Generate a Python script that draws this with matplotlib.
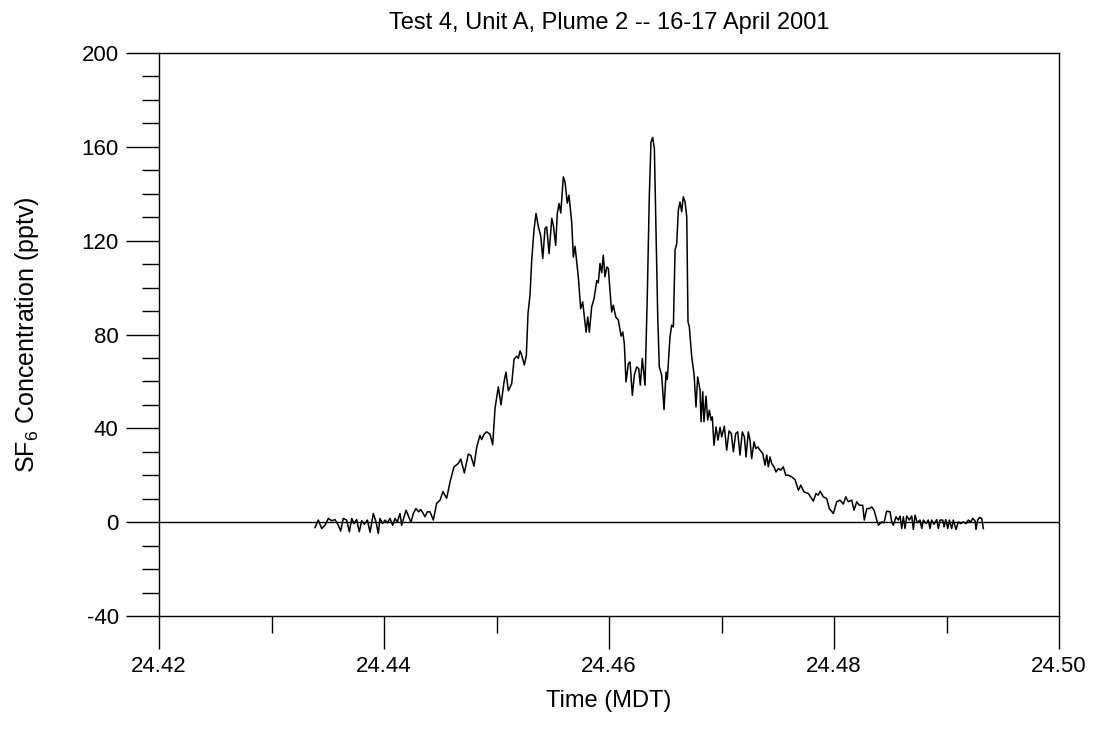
import matplotlib
matplotlib.use("Agg")
import matplotlib.pyplot as plt
from matplotlib.ticker import MultipleLocator, FixedLocator

plt.rcParams['font.family'] = ['Liberation Sans', 'DejaVu Sans']
plt.rcParams['axes.unicode_minus'] = False
plt.rcParams['mathtext.fontset'] = 'custom'
plt.rcParams['mathtext.rm'] = 'Liberation Sans'

title = "Test 4, Unit A, Plume 2 -- 16-17 April 2001"
xlabel = "Time (MDT)"
ylabel = "SF$_6$ Concentration (pptv)"

time_mdt = [
    24.43387, 24.43416, 24.43446, 24.43476, 24.43505, 24.43535, 24.43564, 24.43594, 24.43615, 24.43638,
    24.43668, 24.43692, 24.43713, 24.43733, 24.43757, 24.43780, 24.43802, 24.43825, 24.43852, 24.43876,
    24.43905, 24.43929, 24.43949, 24.43964, 24.43988, 24.44009, 24.44029, 24.44053, 24.44077, 24.44098,
    24.44118, 24.44142, 24.44157, 24.44178, 24.44196, 24.44220, 24.44240, 24.44260, 24.44284, 24.44308,
    24.44326, 24.44349, 24.44364, 24.44385, 24.44409, 24.44438, 24.44468, 24.44498, 24.44524, 24.44557,
    24.44587, 24.44622, 24.44660, 24.44682, 24.44714, 24.44749, 24.44771, 24.44800, 24.44824, 24.44853,
    24.44868, 24.44889, 24.44913, 24.44942, 24.44966, 24.44987, 24.45016, 24.45040, 24.45067, 24.45084,
    24.45105, 24.45135, 24.45156, 24.45180, 24.45194, 24.45209, 24.45224, 24.45247, 24.45265, 24.45280,
    24.45298, 24.45313, 24.45333, 24.45351, 24.45372, 24.45393, 24.45411, 24.45431, 24.45446, 24.45467,
    24.45491, 24.45505, 24.45526, 24.45540, 24.45556, 24.45571, 24.45594, 24.45609, 24.45629, 24.45644,
    24.45668, 24.45683, 24.45698, 24.45727, 24.45748, 24.45766, 24.45796, 24.45811, 24.45825, 24.45846,
    24.45867, 24.45891, 24.45905, 24.45920, 24.45935, 24.45949, 24.45964, 24.45980, 24.45994, 24.46015,
    24.46024, 24.46038, 24.46060, 24.46083, 24.46107, 24.46122, 24.46136, 24.46151, 24.46172, 24.46187,
    24.46207, 24.46225, 24.46246, 24.46264, 24.46278, 24.46296, 24.46320, 24.46340, 24.46358, 24.46373,
    24.46388, 24.46403, 24.46418, 24.46433, 24.46447, 24.46468, 24.46489, 24.46507, 24.46518, 24.46542,
    24.46557, 24.46572, 24.46587, 24.46602, 24.46616, 24.46631, 24.46646, 24.46660, 24.46676, 24.46691,
    24.46702, 24.46714, 24.46735, 24.46756, 24.46773, 24.46788, 24.46809, 24.46818, 24.46833, 24.46844,
    24.46862, 24.46877, 24.46892, 24.46907, 24.46918, 24.46933, 24.46951, 24.46969, 24.46987, 24.47002,
    24.47025, 24.47046, 24.47067, 24.47087, 24.47105, 24.47126, 24.47144, 24.47164, 24.47185, 24.47203,
    24.47218, 24.47238, 24.47253, 24.47268, 24.47289, 24.47304, 24.47322, 24.47342, 24.47366, 24.47387,
    24.47402, 24.47416, 24.47431, 24.47446, 24.47467, 24.47484, 24.47505, 24.47526, 24.47549, 24.47571,
    24.47594, 24.47624, 24.47653, 24.47683, 24.47704, 24.47733, 24.47772, 24.47816, 24.47840, 24.47860,
    24.47876, 24.47905, 24.47935, 24.47958, 24.47994, 24.48024, 24.48053, 24.48083, 24.48104, 24.48127,
    24.48157, 24.48178, 24.48202, 24.48225, 24.48255, 24.48269, 24.48291, 24.48314, 24.48335, 24.48356,
    24.48380, 24.48394, 24.48424, 24.48444, 24.48468, 24.48498, 24.48513, 24.48527, 24.48551, 24.48572,
    24.48587, 24.48602, 24.48616, 24.48631, 24.48646, 24.48669, 24.48691, 24.48705, 24.48720, 24.48740,
    24.48764, 24.48780, 24.48794, 24.48818, 24.48838, 24.48853, 24.48868, 24.48889, 24.48913, 24.48927,
    24.48942, 24.48966, 24.48978, 24.48993, 24.49011, 24.49025, 24.49046, 24.49060, 24.49084, 24.49105,
    24.49126, 24.49149, 24.49173, 24.49194, 24.49215, 24.49233, 24.49253, 24.49262, 24.49277, 24.49292,
    24.49313, 24.49327,
]

sf6_pptv = [
    -2.3, 0.9, -2.7, -1.3, 1.6, 0.6, 1.1, -1.3, -3.8, 1.6,
    0.9, -4.1, 1.6, -0.6, 1.1, -4.1, 0.6, -0.9, 0.9, -4.3,
    3.7, 0.1, -4.8, 1.6, -0.6, 0.9, -0.3, 1.6, -1.3, 1.6,
    0.1, 3.7, -1.3, 2.3, 5.1, 2.3, -0.1, 3.7, 5.8, 4.4,
    5.4, 3.7, 2.3, 4.4, 4.4, 0.9, 8.0, 9.4, 13.0, 10.2,
    17.2, 23.6, 25.0, 26.9, 21.0, 29.0, 28.5, 23.9, 32.0, 37.0,
    35.2, 37.5, 38.5, 37.5, 33.0, 48.6, 57.7, 50.0, 59.8, 64.0,
    56.0, 59.0, 69.5, 70.8, 69.8, 73.0, 71.2, 67.0, 71.0, 89.0,
    97.0, 111.7, 124.5, 131.6, 125.9, 122.0, 112.4, 125.2, 125.9, 114.5,
    129.5, 126.6, 118.0, 131.6, 135.8, 131.8, 147.2, 145.0, 136.0, 139.4,
    128.0, 113.0, 117.6, 104.6, 91.0, 93.9, 81.0, 87.5, 81.0, 91.8,
    95.3, 103.0, 102.0, 110.3, 106.3, 113.8, 104.6, 108.8, 108.1, 94.6,
    89.6, 92.5, 87.5, 86.1, 79.3, 81.1, 76.2, 59.8, 67.6, 68.3,
    54.1, 62.7, 66.2, 65.5, 58.4, 69.8, 58.4, 96.0, 138.7, 162.0,
    164.0, 159.3, 124.5, 87.5, 66.2, 62.7, 48.0, 64.0, 60.8, 79.0,
    84.0, 83.2, 116.0, 118.8, 133.0, 136.5, 132.3, 138.7, 136.5, 130.1,
    85.4, 83.2, 70.5, 63.0, 49.1, 61.9, 56.3, 42.8, 55.6, 42.8,
    53.7, 43.5, 47.7, 43.5, 44.9, 32.8, 40.6, 35.0, 40.4, 36.4,
    40.9, 30.7, 38.9, 37.8, 30.0, 37.8, 38.5, 28.6, 38.5, 36.4,
    27.8, 38.5, 35.0, 27.1, 34.2, 31.4, 32.1, 30.7, 29.3, 24.3,
    28.6, 23.6, 27.8, 25.0, 23.6, 21.4, 22.9, 22.2, 23.6, 20.0,
    20.0, 19.3, 18.2, 13.6, 15.8, 12.9, 12.2, 9.0, 12.2, 11.5,
    13.2, 10.8, 10.1, 5.8, 3.7, 8.7, 9.4, 7.7, 10.8, 8.7,
    9.4, 5.1, 8.7, 7.2, 7.2, 0.9, 5.8, 5.8, 6.5, 5.1,
    0.9, -1.3, 0.1, -0.3, 4.7, 4.4, 0.1, -1.3, 2.3, 0.9,
    2.6, -2.7, 2.3, -2.7, 2.6, 0.9, 2.6, -3.1, 3.0, -0.3,
    0.9, -2.7, 0.9, -0.6, 0.9, -2.7, 0.9, -0.9, 1.1, -2.7,
    0.9, 0.9, -2.0, 1.1, -2.7, 0.9, -2.7, 0.9, -3.1, 0.1,
    -0.6, 0.1, -0.6, 0.9, 0.1, 1.6, 0.6, -3.1, 0.9, 2.0,
    1.6, -2.7,
]

x_major = [24.42, 24.44, 24.46, 24.48, 24.50]
x_major_labels = ["24.42", "24.44", "24.46", "24.48", "24.50"]
y_major = [-40, 0, 40, 80, 120, 160, 200]
y_major_labels = ["-40", "0", "40", "80", "120", "160", "200"]

fig = plt.figure(figsize=(11.05, 7.29), dpi=100)
ax = fig.add_axes([0.1439, 0.155, 0.8145, 0.7723])

ax.plot(time_mdt, sf6_pptv, color='black', linewidth=1.1)
ax.axhline(0, color='black', linewidth=1.0)

ax.set_xlim(24.42, 24.50)
ax.set_ylim(-40, 200)
ax.xaxis.set_major_locator(FixedLocator(x_major))
ax.set_xticklabels(x_major_labels)
ax.xaxis.set_minor_locator(MultipleLocator(0.01))
ax.yaxis.set_major_locator(FixedLocator(y_major))
ax.set_yticklabels(y_major_labels)
ax.yaxis.set_minor_locator(MultipleLocator(10))

ax.tick_params(which='major', direction='out', length=24, width=1.0, labelsize=16, pad=5, colors='black')
ax.tick_params(which='minor', direction='out', length=12.5, width=1.0)
for s in ax.spines.values():
    s.set_linewidth(1.0)

ax.set_title(title, fontsize=17, pad=17)
ax.set_xlabel(xlabel, fontsize=17, labelpad=9)
ax.set_ylabel(ylabel, fontsize=18, labelpad=29)

fig.savefig("out.png", dpi=100)
